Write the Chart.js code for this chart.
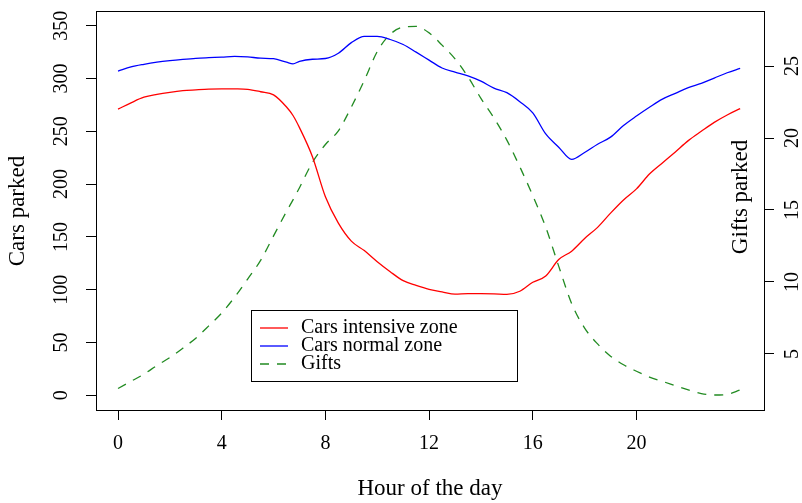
<!DOCTYPE html>
<html>
<head>
<meta charset="utf-8">
<script src="https://cdn.jsdelivr.net/npm/chart.js@4.4.0/dist/chart.umd.min.js"></script>
<style>
  html, body { margin: 0; padding: 0; background: #fff; }
  #wrap { width: 802px; height: 503px; }
</style>
</head>
<body>
<div id="wrap"><canvas id="parkingChart" width="802" height="503"></canvas></div>
<script>
var hours = [0, 0.5, 1, 1.5, 2, 2.5, 3, 3.5, 4, 4.5, 5, 5.5, 6, 6.5, 6.75, 7, 7.5, 8, 8.5, 9, 9.5, 10, 10.5, 11, 11.5, 12,
             12.5, 13, 13.5, 14, 14.5, 15, 15.5, 16, 16.5, 17, 17.5, 18, 18.5, 19, 19.5, 20, 20.5, 21, 21.5, 22, 22.5, 23, 23.5, 24];

var carsIntensive = [271, 277, 282.3, 285, 287, 288.5, 289.3, 290, 290.3, 290.2, 289.8, 287.5, 284.5, 273, 265, 253.5, 226, 188, 163, 146, 137, 126.5, 117, 108.5, 104, 100.3,
                     98, 95.7, 96.2, 96.2, 96, 95.5, 98.5, 107, 113, 128.5, 136.5, 148.5, 159, 172.5, 185, 195.5, 209.5, 220, 230.5, 241.2, 250, 258.5, 265.5, 271.5];

var carsNormal = [307, 311, 313.5, 315.5, 317, 318.2, 319.2, 319.8, 320.3, 321, 320.5, 319.3, 318.8, 315.5, 314, 316.3, 318.3, 319, 324, 334, 340, 340, 337, 332.3, 325, 317.5,
                  310, 306, 302.5, 297.5, 291, 286.6, 278.1, 267.5, 247.5, 235, 223.5, 230, 237.8, 244.5, 255.5, 264.5, 272.8, 280.5, 286, 291.5, 295.5, 300.5, 305.5, 309.7];

var gifts = [2.6, 3.1, 3.6, 4.2, 4.75, 5.4, 6.1, 6.95, 7.85, 8.95, 10.2, 11.5, 13.2, 14.9, 15.7, 16.55, 18.3, 19.55, 20.5, 22.15, 24.0, 26.0, 27.2, 27.7, 27.75, 27.3,
             26.45, 25.5, 24.25, 22.75, 21.4, 19.85, 18.0, 16.0, 13.8, 11.1, 8.5, 6.8, 5.7, 4.85, 4.25, 3.8, 3.4, 3.1, 2.8, 2.5, 2.25, 2.15, 2.2, 2.5];

var hourTicks = [0, 4, 8, 12, 16, 20];
var carTicks = [0, 50, 100, 150, 200, 250, 300, 350];
var giftTicks = [5, 10, 15, 20, 25];

var serif = '"Liberation Serif", "Times New Roman", serif';

function toPoints(values) {
    return hours.map(function (h, i) { return { x: h, y: values[i] }; });
}

function fixTicks(list) {
    return function (scale) {
        scale.ticks = list.map(function (v) { return { value: v }; });
    };
}

function drawRotated(ctx, text, x, y) {
    ctx.save();
    ctx.translate(x, y);
    ctx.rotate(-Math.PI / 2);
    ctx.textAlign = 'center';
    ctx.textBaseline = 'middle';
    ctx.fillText(text, 0, 0);
    ctx.restore();
}

// box, rotated tick labels, axis titles and the legend, R style
var rStylePlugin = {
    id: 'rStyle',
    afterDraw: function (chart) {
        var ctx = chart.ctx;
        var area = chart.chartArea;
        ctx.save();
        ctx.strokeStyle = '#000';
        ctx.lineWidth = 1;
        ctx.strokeRect(area.left + 0.5, area.top + 0.5, area.right - area.left, area.bottom - area.top);

        ctx.fillStyle = '#000';
        ctx.font = '20px ' + serif;
        var yl = chart.scales.y;
        carTicks.forEach(function (v) { drawRotated(ctx, String(v), 62, yl.getPixelForValue(v)); });
        var yr = chart.scales.y2;
        giftTicks.forEach(function (v) { drawRotated(ctx, String(v), 793, yr.getPixelForValue(v)); });

        ctx.font = '23px ' + serif;
        drawRotated(ctx, 'Cars parked', 18, 211);
        drawRotated(ctx, 'Gifts parked', 741, 197);
        ctx.textAlign = 'center';
        ctx.textBaseline = 'middle';
        ctx.fillText('Hour of the day', 430, 489);

        // legend
        ctx.strokeRect(251.5, 310.5, 266, 71);
        ctx.font = '20px ' + serif;
        ctx.textAlign = 'left';
        var rows = [328, 346, 364];
        chart.data.datasets.forEach(function (ds, i) {
            ctx.beginPath();
            ctx.strokeStyle = ds.borderColor;
            ctx.lineWidth = 1.3;
            ctx.setLineDash(ds.borderDash || []);
            ctx.moveTo(260, rows[i]);
            ctx.lineTo(288, rows[i]);
            ctx.stroke();
            ctx.setLineDash([]);
            ctx.fillStyle = '#000';
            ctx.fillText(ds.label, 301, rows[i]);
        });
        ctx.restore();
    }
};

var tickGrid = { display: true, drawOnChartArea: false, drawTicks: true, tickLength: 10, color: '#000', lineWidth: 1 };

new Chart(document.getElementById('parkingChart'), {
    type: 'line',
    data: {
        datasets: [{
            label: 'Cars intensive zone',
            data: toPoints(carsIntensive),
            borderColor: '#ff0000',
            borderWidth: 1.3,
            yAxisID: 'y'
        }, {
            label: 'Cars normal zone',
            data: toPoints(carsNormal),
            borderColor: '#0000ff',
            borderWidth: 1.3,
            yAxisID: 'y'
        }, {
            label: 'Gifts',
            data: toPoints(gifts),
            borderColor: 'rgb(34, 139, 34)',
            borderWidth: 1.3,
            borderDash: [9, 8],
            yAxisID: 'y2'
        }]
    },
    options: {
        responsive: false,
        animation: false,
        layout: { padding: { top: 11 } },
        elements: {
            point: { radius: 0 },
            line: { cubicInterpolationMode: 'monotone', fill: false }
        },
        plugins: {
            legend: { display: false },
            tooltip: { enabled: false }
        },
        scales: {
            x: {
                type: 'linear',
                min: -0.85,
                max: 24.92,
                afterBuildTicks: fixTicks(hourTicks),
                afterFit: function (scale) { scale.height = 93; },
                grid: tickGrid,
                border: { display: false },
                ticks: { color: '#000', padding: 12, maxRotation: 0, font: { family: serif, size: 20 } }
            },
            y: {
                position: 'left',
                min: -14,
                max: 364,
                afterBuildTicks: fixTicks(carTicks),
                afterFit: function (scale) { scale.width = 96; },
                grid: tickGrid,
                border: { display: false },
                ticks: { display: false }
            },
            y2: {
                position: 'right',
                min: 1.11,
                max: 28.82,
                afterBuildTicks: fixTicks(giftTicks),
                afterFit: function (scale) { scale.width = 38; },
                grid: tickGrid,
                border: { display: false },
                ticks: { display: false }
            }
        }
    },
    plugins: [rStylePlugin]
});
</script>
</body>
</html>
